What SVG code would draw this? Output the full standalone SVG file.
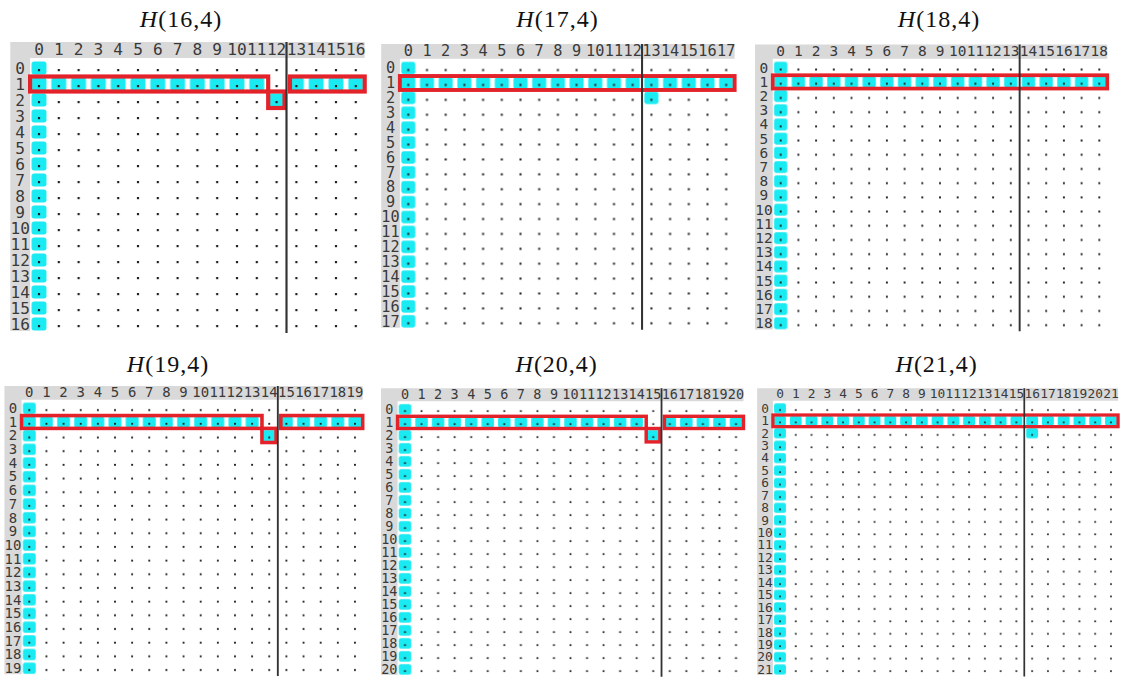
<svg xmlns="http://www.w3.org/2000/svg" width="1123" height="679" viewBox="0 0 1123 679">
<style>
.g{fill:#d9d9d9}
.c,.r{font-family:"DejaVu Sans Mono",monospace;font-size:16.3px;fill:#3a3a3a;text-anchor:middle}
.rb{fill:none;stroke:#e3222a;stroke-width:4.2}
.vl{stroke:#333;stroke-width:2.2}
.t{font-family:"Liberation Serif",serif;font-size:24px;text-anchor:middle;fill:#111;letter-spacing:1px}
</style>
<defs>
<pattern id="cy" patternUnits="userSpaceOnUse" x="-10" y="-8" width="20" height="16"><rect x="2.5" y="1.4" width="15" height="13.2" rx="2.5" fill="#1aeaf2"/></pattern>
<pattern id="dt" patternUnits="userSpaceOnUse" x="-10" y="-8" width="20" height="16"><rect x="8.9" y="9" width="2.2" height="2.2" fill="#222"/></pattern>
</defs>
<rect width="1123" height="679" fill="#fff"/>

<g id="titles">
<text class="t" x="181" y="27"><tspan font-style="italic">H</tspan>(16,4)</text>
<text class="t" x="557.5" y="27"><tspan font-style="italic">H</tspan>(17,4)</text>
<text class="t" x="939" y="27"><tspan font-style="italic">H</tspan>(18,4)</text>
<text class="t" x="168" y="372"><tspan font-style="italic">H</tspan>(19,4)</text>
<text class="t" x="556.7" y="372"><tspan font-style="italic">H</tspan>(20,4)</text>
<text class="t" x="936.7" y="372"><tspan font-style="italic">H</tspan>(21,4)</text>
</g>

<g id="p16" transform="translate(39,68) scale(.99,1)">
<path class="g" d="M-29,-26H329V-10H-9V263H-29Z"/>
<rect x="-10" y="-8" width="20" height="272" fill="url(#cy)"/>
<rect x="10" y="8" width="220" height="16" fill="url(#cy)"/>
<rect x="250" y="8" width="80" height="16" fill="url(#cy)"/>
<rect x="230" y="24" width="20" height="16" fill="url(#cy)"/>
<rect x="-10" y="-8" width="340" height="272" fill="url(#dt)"/>
<rect class="rb" x="-9" y="8.5" width="240.5" height="15"/>
<rect class="rb" x="231.5" y="23.5" width="16.5" height="16.5"/>
<rect class="rb" x="253.5" y="8.5" width="75.5" height="15"/>
<line class="vl" x1="250" y1="-26" x2="250" y2="265"/>
<text class="c" y="-13"><tspan x="0">0</tspan><tspan x="20">1</tspan><tspan x="40">2</tspan><tspan x="60">3</tspan><tspan x="80">4</tspan><tspan x="100">5</tspan><tspan x="120">6</tspan><tspan x="140">7</tspan><tspan x="160">8</tspan><tspan x="180">9</tspan><tspan x="200">10</tspan><tspan x="220">11</tspan><tspan x="240">12</tspan><tspan x="260">13</tspan><tspan x="280">14</tspan><tspan x="300">15</tspan><tspan x="320">16</tspan></text>
<text class="r"><tspan x="-19" y="5.6">0</tspan><tspan x="-19" y="21.6">1</tspan><tspan x="-19" y="37.6">2</tspan><tspan x="-19" y="53.6">3</tspan><tspan x="-19" y="69.6">4</tspan><tspan x="-19" y="85.6">5</tspan><tspan x="-19" y="101.6">6</tspan><tspan x="-19" y="117.6">7</tspan><tspan x="-19" y="133.6">8</tspan><tspan x="-19" y="149.6">9</tspan><tspan x="-19" y="165.6">10</tspan><tspan x="-19" y="181.6">11</tspan><tspan x="-19" y="197.6">12</tspan><tspan x="-19" y="213.6">13</tspan><tspan x="-19" y="229.6">14</tspan><tspan x="-19" y="245.6">15</tspan><tspan x="-19" y="261.6">16</tspan></text>
</g>

<g id="p17" transform="translate(408.3,68.1) scale(.935,.931)">
<path class="g" d="M-29,-26H349V-10H-9V279H-29Z"/>
<rect x="-10" y="-8" width="20" height="288" fill="url(#cy)"/>
<rect x="10" y="8" width="340" height="16" fill="url(#cy)"/>
<rect x="250" y="24" width="20" height="16" fill="url(#cy)"/>
<rect x="-10" y="-8" width="360" height="288" fill="url(#dt)"/>
<rect class="rb" x="-9" y="8.5" width="358" height="15"/>
<line class="vl" x1="250" y1="-26" x2="250" y2="281"/>
<text class="c" y="-13"><tspan x="0">0</tspan><tspan x="20">1</tspan><tspan x="40">2</tspan><tspan x="60">3</tspan><tspan x="80">4</tspan><tspan x="100">5</tspan><tspan x="120">6</tspan><tspan x="140">7</tspan><tspan x="160">8</tspan><tspan x="180">9</tspan><tspan x="200">10</tspan><tspan x="220">11</tspan><tspan x="240">12</tspan><tspan x="260">13</tspan><tspan x="280">14</tspan><tspan x="300">15</tspan><tspan x="320">16</tspan><tspan x="340">17</tspan></text>
<text class="r"><tspan x="-19" y="5.6">0</tspan><tspan x="-19" y="21.6">1</tspan><tspan x="-19" y="37.6">2</tspan><tspan x="-19" y="53.6">3</tspan><tspan x="-19" y="69.6">4</tspan><tspan x="-19" y="85.6">5</tspan><tspan x="-19" y="101.6">6</tspan><tspan x="-19" y="117.6">7</tspan><tspan x="-19" y="133.6">8</tspan><tspan x="-19" y="149.6">9</tspan><tspan x="-19" y="165.6">10</tspan><tspan x="-19" y="181.6">11</tspan><tspan x="-19" y="197.6">12</tspan><tspan x="-19" y="213.6">13</tspan><tspan x="-19" y="229.6">14</tspan><tspan x="-19" y="245.6">15</tspan><tspan x="-19" y="261.6">16</tspan><tspan x="-19" y="277.6">17</tspan></text>
</g>

<g id="p18" transform="translate(780.7,67.7) scale(.885,.8875)">
<path class="g" d="M-29,-26H369V-10H-9V295H-29Z"/>
<rect x="-10" y="-8" width="20" height="304" fill="url(#cy)"/>
<rect x="10" y="8" width="360" height="16" fill="url(#cy)"/>
<rect x="-10" y="-8" width="380" height="304" fill="url(#dt)"/>
<rect class="rb" x="-9" y="8.5" width="378" height="15"/>
<line class="vl" x1="270" y1="-26" x2="270" y2="297"/>
<text class="c" y="-13"><tspan x="0">0</tspan><tspan x="20">1</tspan><tspan x="40">2</tspan><tspan x="60">3</tspan><tspan x="80">4</tspan><tspan x="100">5</tspan><tspan x="120">6</tspan><tspan x="140">7</tspan><tspan x="160">8</tspan><tspan x="180">9</tspan><tspan x="200">10</tspan><tspan x="220">11</tspan><tspan x="240">12</tspan><tspan x="260">13</tspan><tspan x="280">14</tspan><tspan x="300">15</tspan><tspan x="320">16</tspan><tspan x="340">17</tspan><tspan x="360">18</tspan></text>
<text class="r"><tspan x="-19" y="5.6">0</tspan><tspan x="-19" y="21.6">1</tspan><tspan x="-19" y="37.6">2</tspan><tspan x="-19" y="53.6">3</tspan><tspan x="-19" y="69.6">4</tspan><tspan x="-19" y="85.6">5</tspan><tspan x="-19" y="101.6">6</tspan><tspan x="-19" y="117.6">7</tspan><tspan x="-19" y="133.6">8</tspan><tspan x="-19" y="149.6">9</tspan><tspan x="-19" y="165.6">10</tspan><tspan x="-19" y="181.6">11</tspan><tspan x="-19" y="197.6">12</tspan><tspan x="-19" y="213.6">13</tspan><tspan x="-19" y="229.6">14</tspan><tspan x="-19" y="245.6">15</tspan><tspan x="-19" y="261.6">16</tspan><tspan x="-19" y="277.6">17</tspan><tspan x="-19" y="293.6">18</tspan></text>
</g>

<g id="p19" transform="translate(29.3,408.3) scale(.857,.855)">
<path class="g" d="M-29,-26H389V-10H-9V311H-29Z"/>
<rect x="-10" y="-8" width="20" height="320" fill="url(#cy)"/>
<rect x="10" y="8" width="260" height="16" fill="url(#cy)"/>
<rect x="290" y="8" width="100" height="16" fill="url(#cy)"/>
<rect x="270" y="24" width="20" height="16" fill="url(#cy)"/>
<rect x="-10" y="-8" width="400" height="320" fill="url(#dt)"/>
<rect class="rb" x="-9" y="8.5" width="280.5" height="15"/>
<rect class="rb" x="271.5" y="23.5" width="16.5" height="16.5"/>
<rect class="rb" x="293.5" y="8.5" width="95.5" height="15"/>
<line class="vl" x1="290" y1="-26" x2="290" y2="313"/>
<text class="c" y="-13"><tspan x="0">0</tspan><tspan x="20">1</tspan><tspan x="40">2</tspan><tspan x="60">3</tspan><tspan x="80">4</tspan><tspan x="100">5</tspan><tspan x="120">6</tspan><tspan x="140">7</tspan><tspan x="160">8</tspan><tspan x="180">9</tspan><tspan x="200">10</tspan><tspan x="220">11</tspan><tspan x="240">12</tspan><tspan x="260">13</tspan><tspan x="280">14</tspan><tspan x="300">15</tspan><tspan x="320">16</tspan><tspan x="340">17</tspan><tspan x="360">18</tspan><tspan x="380">19</tspan></text>
<text class="r"><tspan x="-19" y="5.6">0</tspan><tspan x="-19" y="21.6">1</tspan><tspan x="-19" y="37.6">2</tspan><tspan x="-19" y="53.6">3</tspan><tspan x="-19" y="69.6">4</tspan><tspan x="-19" y="85.6">5</tspan><tspan x="-19" y="101.6">6</tspan><tspan x="-19" y="117.6">7</tspan><tspan x="-19" y="133.6">8</tspan><tspan x="-19" y="149.6">9</tspan><tspan x="-19" y="165.6">10</tspan><tspan x="-19" y="181.6">11</tspan><tspan x="-19" y="197.6">12</tspan><tspan x="-19" y="213.6">13</tspan><tspan x="-19" y="229.6">14</tspan><tspan x="-19" y="245.6">15</tspan><tspan x="-19" y="261.6">16</tspan><tspan x="-19" y="277.6">17</tspan><tspan x="-19" y="293.6">18</tspan><tspan x="-19" y="309.6">19</tspan></text>
</g>

<g id="p20" transform="translate(405,409.4) scale(.8275,.8125)">
<path class="g" d="M-29,-26H409V-10H-9V327H-29Z"/>
<rect x="-10" y="-8" width="20" height="336" fill="url(#cy)"/>
<rect x="10" y="8" width="280" height="16" fill="url(#cy)"/>
<rect x="310" y="8" width="100" height="16" fill="url(#cy)"/>
<rect x="290" y="24" width="20" height="16" fill="url(#cy)"/>
<rect x="-10" y="-8" width="420" height="336" fill="url(#dt)"/>
<rect class="rb" x="-9" y="8.5" width="300.5" height="15"/>
<rect class="rb" x="291.5" y="23.5" width="16.5" height="16.5"/>
<rect class="rb" x="313.5" y="8.5" width="95.5" height="15"/>
<line class="vl" x1="310" y1="-26" x2="310" y2="329"/>
<text class="c" y="-13"><tspan x="0">0</tspan><tspan x="20">1</tspan><tspan x="40">2</tspan><tspan x="60">3</tspan><tspan x="80">4</tspan><tspan x="100">5</tspan><tspan x="120">6</tspan><tspan x="140">7</tspan><tspan x="160">8</tspan><tspan x="180">9</tspan><tspan x="200">10</tspan><tspan x="220">11</tspan><tspan x="240">12</tspan><tspan x="260">13</tspan><tspan x="280">14</tspan><tspan x="300">15</tspan><tspan x="320">16</tspan><tspan x="340">17</tspan><tspan x="360">18</tspan><tspan x="380">19</tspan><tspan x="400">20</tspan></text>
<text class="r"><tspan x="-19" y="5.6">0</tspan><tspan x="-19" y="21.6">1</tspan><tspan x="-19" y="37.6">2</tspan><tspan x="-19" y="53.6">3</tspan><tspan x="-19" y="69.6">4</tspan><tspan x="-19" y="85.6">5</tspan><tspan x="-19" y="101.6">6</tspan><tspan x="-19" y="117.6">7</tspan><tspan x="-19" y="133.6">8</tspan><tspan x="-19" y="149.6">9</tspan><tspan x="-19" y="165.6">10</tspan><tspan x="-19" y="181.6">11</tspan><tspan x="-19" y="197.6">12</tspan><tspan x="-19" y="213.6">13</tspan><tspan x="-19" y="229.6">14</tspan><tspan x="-19" y="245.6">15</tspan><tspan x="-19" y="261.6">16</tspan><tspan x="-19" y="277.6">17</tspan><tspan x="-19" y="293.6">18</tspan><tspan x="-19" y="309.6">19</tspan><tspan x="-19" y="325.6">20</tspan></text>
</g>

<g id="p21" transform="translate(780,408.4) scale(.788,.777)">
<path class="g" d="M-29,-26H429V-10H-9V343H-29Z"/>
<rect x="-10" y="-8" width="20" height="352" fill="url(#cy)"/>
<rect x="10" y="8" width="420" height="16" fill="url(#cy)"/>
<rect x="310" y="24" width="20" height="16" fill="url(#cy)"/>
<rect x="-10" y="-8" width="440" height="352" fill="url(#dt)"/>
<rect class="rb" x="-9" y="8.5" width="438" height="15"/>
<line class="vl" x1="310" y1="-26" x2="310" y2="345"/>
<text class="c" y="-13"><tspan x="0">0</tspan><tspan x="20">1</tspan><tspan x="40">2</tspan><tspan x="60">3</tspan><tspan x="80">4</tspan><tspan x="100">5</tspan><tspan x="120">6</tspan><tspan x="140">7</tspan><tspan x="160">8</tspan><tspan x="180">9</tspan><tspan x="200">10</tspan><tspan x="220">11</tspan><tspan x="240">12</tspan><tspan x="260">13</tspan><tspan x="280">14</tspan><tspan x="300">15</tspan><tspan x="320">16</tspan><tspan x="340">17</tspan><tspan x="360">18</tspan><tspan x="380">19</tspan><tspan x="400">20</tspan><tspan x="420">21</tspan></text>
<text class="r"><tspan x="-19" y="5.6">0</tspan><tspan x="-19" y="21.6">1</tspan><tspan x="-19" y="37.6">2</tspan><tspan x="-19" y="53.6">3</tspan><tspan x="-19" y="69.6">4</tspan><tspan x="-19" y="85.6">5</tspan><tspan x="-19" y="101.6">6</tspan><tspan x="-19" y="117.6">7</tspan><tspan x="-19" y="133.6">8</tspan><tspan x="-19" y="149.6">9</tspan><tspan x="-19" y="165.6">10</tspan><tspan x="-19" y="181.6">11</tspan><tspan x="-19" y="197.6">12</tspan><tspan x="-19" y="213.6">13</tspan><tspan x="-19" y="229.6">14</tspan><tspan x="-19" y="245.6">15</tspan><tspan x="-19" y="261.6">16</tspan><tspan x="-19" y="277.6">17</tspan><tspan x="-19" y="293.6">18</tspan><tspan x="-19" y="309.6">19</tspan><tspan x="-19" y="325.6">20</tspan><tspan x="-19" y="341.6">21</tspan></text>
</g>
</svg>
